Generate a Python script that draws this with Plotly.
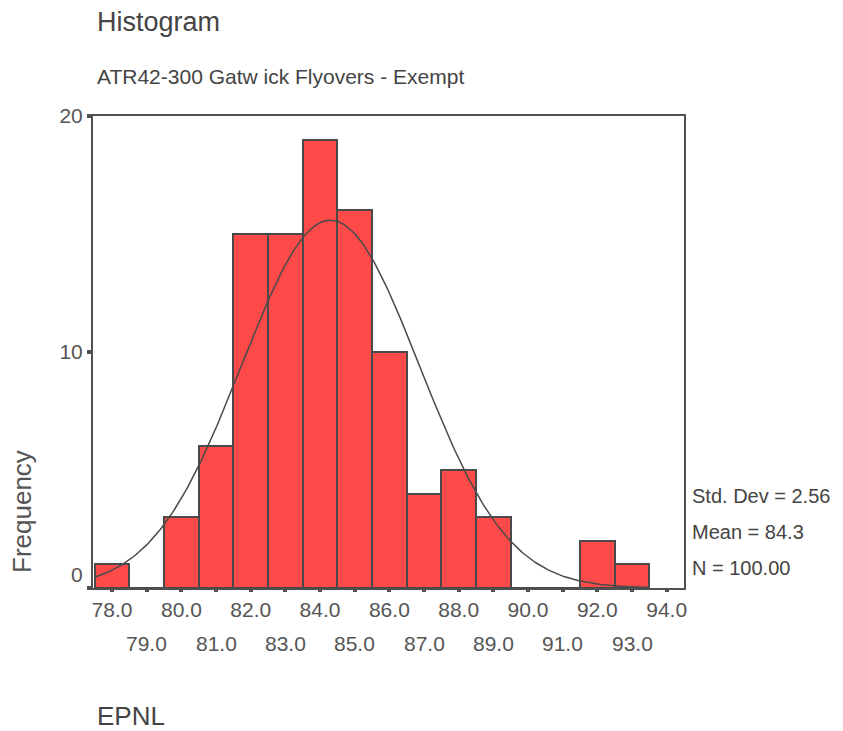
import numpy as np
import plotly.graph_objects as go

# Data
bin_centers = [78, 79, 80, 81, 82, 83, 84, 85, 86, 87, 88, 89, 90, 91, 92, 93]
counts = [1, 0, 3, 6, 15, 15, 19, 16, 10, 4, 5, 3, 0, 0, 2, 1]
tick_values = [78, 79, 80, 81, 82, 83, 84, 85, 86, 87, 88, 89, 90, 91, 92, 93, 94]
std_dev = 2.56
mean = 84.3
n_obs = 100
bin_width = 1.0

# Fitted normal curve (from the displayed summary statistics)
xc = np.linspace(77.5, 93.5, 300)
yc = n_obs * bin_width / (std_dev * np.sqrt(2 * np.pi)) * np.exp(-0.5 * ((xc - mean) / std_dev) ** 2)

AX = "#505050"
TXT = "#555555"
DARK = "#444444"
FONT = "Liberation Sans, Arial, sans-serif"

# page offset (body margin of 8px)
OFF = 8
FIG_W, FIG_H = 843 - OFF, 731 - OFF
PL, PR, PT, PB = 93, 684, 116, 588  # plot area in page pixels

fig = go.Figure()
fig.add_trace(go.Bar(
    x=bin_centers, y=counts, width=bin_width,
    marker=dict(color="#FF4A4A", line=dict(color="#4a4a4a", width=2)),
    hoverinfo="x+y",
))
fig.add_trace(go.Scatter(
    x=xc, y=yc, mode="lines", line=dict(color="#4a4a4a", width=1.5), hoverinfo="skip",
))

even_text = [f"{v:.1f}" if v % 2 == 0 else "" for v in tick_values]

fig.update_layout(
    width=FIG_W, height=FIG_H,
    margin=dict(l=PL - OFF, r=FIG_W - (PR - OFF), t=PT - OFF, b=FIG_H - (PB - OFF)),
    paper_bgcolor="white", plot_bgcolor="white",
    showlegend=False, bargap=0,
    font=dict(family=FONT, color=TXT, size=21),
    xaxis=dict(
        range=[77.45, 94.5], tickmode="array", tickvals=tick_values, ticktext=even_text,
        ticks="outside", ticklen=2, tickwidth=4, tickcolor=AX,
        showline=True, linecolor=AX, linewidth=2, mirror=True,
        showgrid=False, zeroline=False,
        tickfont=dict(size=21, color=TXT, family=FONT),
    ),
    yaxis=dict(
        range=[0, 20], tickmode="array", tickvals=[0, 10, 20],
        ticktext=["0<br>&nbsp;", "10", "20"],
        ticks="outside", ticklen=4, tickwidth=4, tickcolor=AX,
        showline=True, linecolor=AX, linewidth=2, mirror=True,
        showgrid=False, zeroline=False,
        tickfont=dict(size=21, color=TXT, family=FONT),
    ),
)

W = PR - PL
H = PB - PT
def px(x):
    return (x - PL) / W
def py(y):
    return (PB - y) / H

annotations = []
for v in tick_values:
    if v % 2 == 1:
        annotations.append(dict(x=v, y=py(643), xref="x", yref="paper", text=f"{v:.1f}",
                                showarrow=False, font=dict(size=21, color=TXT, family=FONT),
                                xanchor="center", yanchor="middle"))

def label(x, y, text, size, color=DARK, angle=0, xanchor="left"):
    annotations.append(dict(x=px(x), y=py(y), xref="paper", yref="paper", text=text,
                            showarrow=False, textangle=angle, xanchor=xanchor, yanchor="middle",
                            font=dict(size=size, color=color, family=FONT)))

label(95, 22, "Histogram", 27)
label(95, 76, "ATR42-300 Gatw ick Flyovers - Exempt", 21)
label(22, 512, "Frequency", 26, color=TXT, angle=-90, xanchor="center")
label(95, 716, "EPNL", 26)
label(690, 496, f"Std. Dev = {std_dev:.2f}", 20)
label(690, 532, f"Mean = {mean:.1f}", 20)
label(690, 568, f"N = {n_obs:.2f}", 20)

fig.update_layout(annotations=annotations)

fig.write_html("out.html")
